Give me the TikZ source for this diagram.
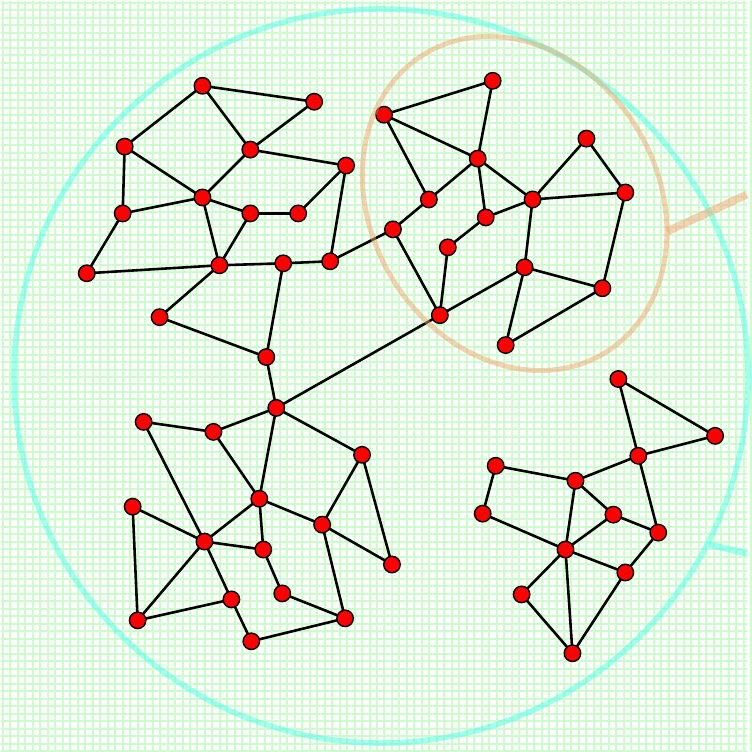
\documentclass[tikz,border=0pt]{standalone}
\pgfdeclarelayer{bg}
\pgfdeclarelayer{edgelayer}
\pgfdeclarelayer{top}
\pgfsetlayers{bg,edgelayer,main,top}
\begin{document}
\begin{tikzpicture}[x=1pt,y=-1pt,
  vtx/.style={circle,fill=red,draw=black,line width=1.4pt,minimum size=16.5pt,inner sep=0pt},
  edge/.style={draw=black,line width=2.6pt},
  gridline/.style={draw={rgb,255:red,205;green,253;blue,205},line width=2pt}]
\definecolor{ringcyan}{RGB}{70,255,230}
\definecolor{ringorange}{RGB}{240,165,110}
\begin{pgfonlayer}{bg}
\fill[white] (0,0) rectangle (748,752);
\foreach \i in {0,...,100}{
  \draw[gridline] (\i*7.5+2,0) -- (\i*7.5+2,752);
  \draw[gridline] (0,\i*7.5+2) -- (748,\i*7.5+2);
}
\end{pgfonlayer}
\useasboundingbox (0,0) rectangle (748,752);
% top-left cluster
\node[vtx] (n1) at (202,85) {};
\node[vtx] (n2) at (314,101) {};
\node[vtx] (n3) at (124,146) {};
\node[vtx] (n4) at (250,149) {};
\node[vtx] (n5) at (346,165) {};
\node[vtx] (n6) at (202,197) {};
\node[vtx] (n7) at (122,213) {};
\node[vtx] (n8) at (250,213) {};
\node[vtx] (n9) at (298,213) {};
\node[vtx] (n10) at (86,273) {};
\node[vtx] (n11) at (219,265) {};
\node[vtx] (n12) at (283,263) {};
\node[vtx] (n13) at (330,261) {};
\node[vtx] (n14) at (159,317) {};
\node[vtx] (n15) at (266,357) {};
% top-right cluster
\node[vtx] (o1) at (393,229) {};
\node[vtx] (o2) at (384,114) {};
\node[vtx] (o3) at (493,80) {};
\node[vtx] (o4) at (478,158) {};
\node[vtx] (o5) at (429,199) {};
\node[vtx] (o6) at (486,217) {};
\node[vtx] (o7) at (448,247) {};
\node[vtx] (o8) at (533,199) {};
\node[vtx] (o9) at (587,138) {};
\node[vtx] (o10) at (626,192) {};
\node[vtx] (o11) at (525,267) {};
\node[vtx] (o12) at (603,288) {};
\node[vtx] (o13) at (506,345) {};
\node[vtx] (o14) at (440,315) {};
% bottom-middle cluster
\node[vtx] (t1) at (276,408) {};
\node[vtx] (t2) at (213,432) {};
\node[vtx] (t3) at (143,422) {};
\node[vtx] (t4) at (362,455) {};
\node[vtx] (t5) at (259,499) {};
\node[vtx] (t6) at (132,507) {};
\node[vtx] (t7) at (204,542) {};
\node[vtx] (t8) at (263,550) {};
\node[vtx] (t9) at (322,525) {};
\node[vtx] (t10) at (392,565) {};
\node[vtx] (t11) at (231,600) {};
\node[vtx] (t12) at (282,594) {};
\node[vtx] (t13) at (137,621) {};
\node[vtx] (t14) at (251,642) {};
\node[vtx] (t15) at (345,619) {};
% bottom-right cluster
\node[vtx] (r1) at (619,379) {};
\node[vtx] (r2) at (716,436) {};
\node[vtx] (r3) at (639,456) {};
\node[vtx] (r4) at (496,466) {};
\node[vtx] (r5) at (576,481) {};
\node[vtx] (r6) at (483,514) {};
\node[vtx] (r7) at (614,515) {};
\node[vtx] (r8) at (659,533) {};
\node[vtx] (r9) at (566,550) {};
\node[vtx] (r10) at (626,573) {};
\node[vtx] (r11) at (522,595) {};
\node[vtx] (r12) at (573,654) {};
\begin{pgfonlayer}{edgelayer}
\foreach \a/\b in {n1/n2,n1/n3,n1/n4,n2/n4,n3/n6,n3/n7,n4/n5,n4/n6,n6/n7,n6/n8,n6/n11,n8/n9,n9/n5,n8/n11,n5/n13,n10/n7,n10/n11,n11/n12,n12/n13,n13/o1,n11/n14,n14/n15,n12/n15,n15/t1,
  o2/o3,o2/o4,o3/o4,o2/o5,o4/o5,o5/o1,o1/o14,o4/o6,o4/o8,o6/o8,o6/o7,o7/o14,o8/o9,o9/o10,o8/o10,o8/o11,o10/o12,o11/o12,o11/o14,o11/o13,o12/o13,o14/t1,
  t1/t2,t2/t3,t1/t4,t1/t5,t2/t5,t3/t7,t4/t9,t4/t10,t5/t8,t5/t9,t9/t10,t9/t15,t6/t7,t6/t13,t7/t5,t7/t8,t7/t13,t7/t11,t13/t11,t11/t14,t14/t15,t8/t12,t12/t15,
  r1/r2,r1/r3,r2/r3,r3/r5,r3/r8,r4/r5,r4/r6,r5/r7,r5/r9,r6/r9,r7/r8,r7/r9,r8/r10,r9/r10,r9/r11,r9/r12,r11/r12,r10/r12}
  \draw[edge] (\a.center) -- (\b.center);
\end{pgfonlayer}
% rings
\begin{pgfonlayer}{top}
\coordinate (oc) at (515,203);
\coordinate (oj) at (668,231);
\coordinate (oe) at (748,194);
\coordinate (cc) at (381,376);
\coordinate (cj) at (710,545);
\coordinate (ce) at (748,554);
\draw[ringcyan,line width=5.5pt,opacity=0.5] (cc) circle[radius=368];
\draw[ringcyan,line width=6.5pt,opacity=0.5] (cj) -- (ce);
\draw[ringorange,line width=5pt,opacity=0.5,rotate around={-59.3:(oc)}] (oc) ellipse[x radius=175,y radius=144];
\draw[ringorange,line width=8pt,opacity=0.5] (oj) -- (oe);
\end{pgfonlayer}
\end{tikzpicture}
\end{document}
